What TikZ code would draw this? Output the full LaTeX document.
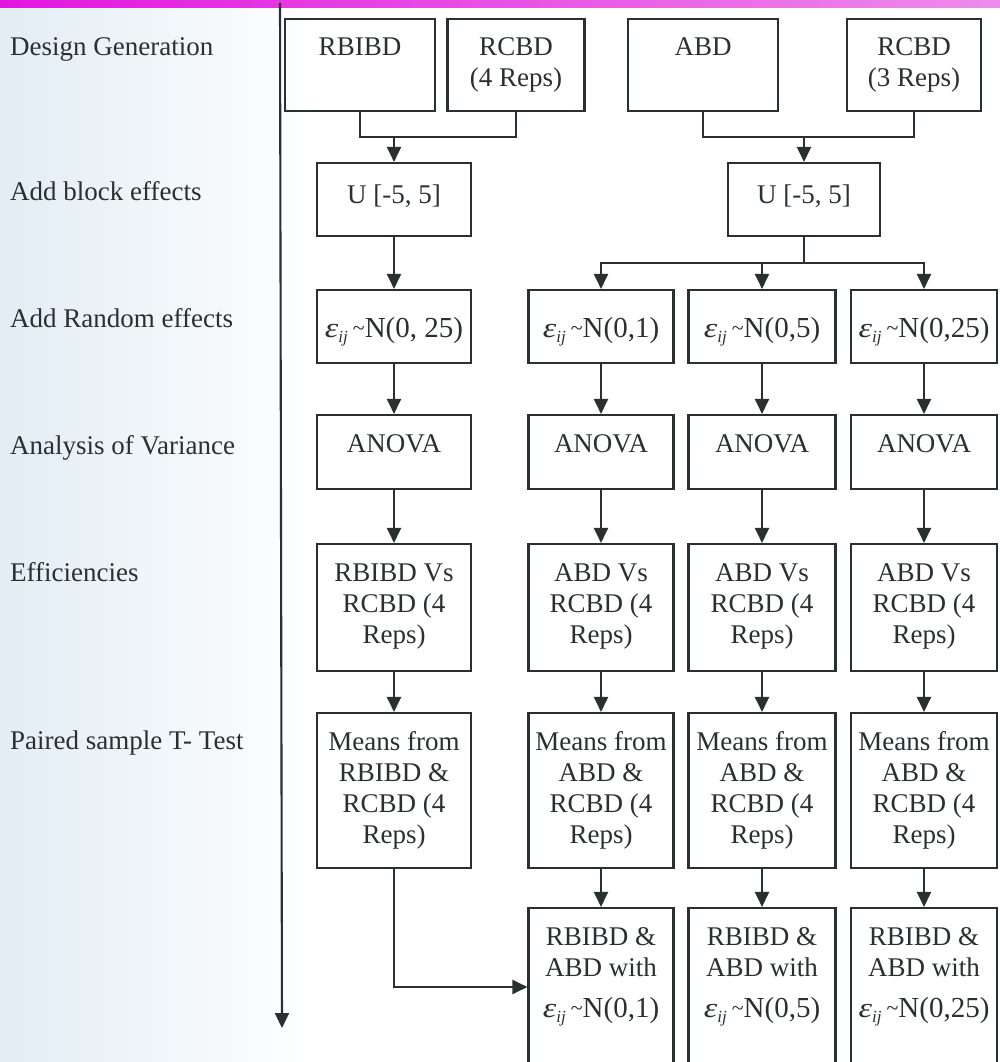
\documentclass[tikz,border=0pt]{standalone}
\usepackage{fontspec}
\usepackage{graphicx}
\setmainfont{Liberation Serif}
\usetikzlibrary{arrows.meta}
\definecolor{ink}{RGB}{40,48,48}
\definecolor{bgl}{RGB}{226,237,244}
\definecolor{magL}{RGB}{226,22,222}
\definecolor{magR}{RGB}{238,140,236}
\newcommand{\boxfont}{\fontsize{27}{31}\selectfont}
% epsilon_ij ~ N(...) as set by the equation editor
\newcommand{\eqn}[1]{\scalebox{1.22}[1]{\fontsize{28}{31}\selectfont\itshape ε}\raisebox{-5pt}{\fontsize{17}{17}\selectfont\itshape ij}\hspace{5pt}\raisebox{2pt}{\fontsize{22}{22}\selectfont\textasciitilde}{\fontsize{29}{31}\selectfont #1}}
\newcommand{\bt}[4]{\parbox[c][#2][t]{#1}{\centering\vspace*{#3}#4\par}}
\tikzset{
  box/.style={draw=ink, line width=2.1pt, inner sep=0pt, text=ink, font=\boxfont},
  lbl/.style={anchor=base west, inner sep=0pt, text=ink, font=\boxfont},
  ln/.style={draw=ink, line width=2.1pt},
  arr/.style={ln, -{Triangle[width=14pt,length=15pt]}},
}
\begin{document}
\begin{tikzpicture}[x=1pt,y=-1pt]
\useasboundingbox (0,0) rectangle (1000,1062);
\begin{scope}
\clip (0,0) rectangle (1000,1062);
\fill[white] (0,0) rectangle (1000,1062);
\shade[left color=bgl, right color=white] (0,0) rectangle (320,1062);
\shade[left color=magL, right color=magR] (0,0) rectangle (1000,8);

% left labels
\node[lbl] (l1) at (10,56) {Design Generation};
\node[lbl] (l2) at (10,200) {Add block effects};
\node[lbl] (l3) at (10,327) {Add Random effects};
\node[lbl] (l4) at (10,454) {Analysis of Variance};
\node[lbl] (l5) at (10,581) {Efficiencies};
\node[lbl] (l6) at (10,749) {Paired sample T- Test};

% axis
\coordinate (axtop) at (280,3);
\coordinate (axbot) at (282,1028);
\draw[arr] (axtop) -- (axbot);

% top row
\node[box] (rbibd) at (360,65) {\bt{150pt}{92pt}{19pt}{RBIBD}};
\node[box] (rcbd4) at (516,65) {\bt{137pt}{92pt}{19pt}{RCBD\\(4 Reps)}};
\node[box] (abd)   at (703,65) {\bt{150pt}{92pt}{19pt}{ABD}};
\node[box] (rcbd3) at (914,65) {\bt{134pt}{92pt}{19pt}{RCBD\\(3 Reps)}};

% block effects
\node[box] (u1) at (394,199.5) {\bt{154pt}{73pt}{22pt}{U [-5, 5]}};
\node[box] (u2) at (804,199.5) {\bt{152pt}{73pt}{22pt}{U [-5, 5]}};

% random effects
\node[box] (e1) at (394,326.5) {\bt{154pt}{73pt}{27pt}{\eqn{N(0, 25)}}};
\node[box] (e2) at (601,326.5) {\bt{145pt}{73pt}{27pt}{\eqn{N(0,1)}}};
\node[box] (e3) at (762,326.5) {\bt{147pt}{73pt}{27pt}{\eqn{N(0,5)}}};
\node[box] (e4) at (924,326.5) {\bt{146pt}{73pt}{27pt}{\eqn{N(0,25)}}};

% ANOVA
\node[box] (an1) at (394,452) {\bt{154pt}{74pt}{20pt}{ANOVA}};
\node[box] (an2) at (601,452) {\bt{145pt}{74pt}{20pt}{ANOVA}};
\node[box] (an3) at (762,452) {\bt{147pt}{74pt}{20pt}{ANOVA}};
\node[box] (an4) at (924,452) {\bt{146pt}{74pt}{20pt}{ANOVA}};

% efficiencies
\node[box] (ef1) at (394,607.5) {\bt{154pt}{127pt}{20pt}{RBIBD Vs\\RCBD (4\\Reps)}};
\node[box] (ef2) at (601,607.5) {\bt{145pt}{127pt}{20pt}{ABD Vs\\RCBD (4\\Reps)}};
\node[box] (ef3) at (762,607.5) {\bt{147pt}{127pt}{20pt}{ABD Vs\\RCBD (4\\Reps)}};
\node[box] (ef4) at (924,607.5) {\bt{146pt}{127pt}{20pt}{ABD Vs\\RCBD (4\\Reps)}};

% means
\node[box] (m1) at (394,790.5) {\bt{154pt}{155pt}{18pt}{Means from\\RBIBD \&\\RCBD (4\\Reps)}};
\node[box] (m2) at (601,790.5) {\bt{145pt}{155pt}{18pt}{Means from\\ABD \&\\RCBD (4\\Reps)}};
\node[box] (m3) at (762,790.5) {\bt{147pt}{155pt}{18pt}{Means from\\ABD \&\\RCBD (4\\Reps)}};
\node[box] (m4) at (924,790.5) {\bt{146pt}{155pt}{18pt}{Means from\\ABD \&\\RCBD (4\\Reps)}};

% final comparisons
\node[box] (f2) at (601,987) {\bt{145pt}{158pt}{20pt}{RBIBD \&\\ABD with\\[10pt]\eqn{N(0,1)}}};
\node[box] (f3) at (762,987) {\bt{147pt}{158pt}{20pt}{RBIBD \&\\ABD with\\[10pt]\eqn{N(0,5)}}};
\node[box] (f4) at (924,987) {\bt{146pt}{158pt}{20pt}{RBIBD \&\\ABD with\\[10pt]\eqn{N(0,25)}}};

% connectors
\coordinate (j1) at (394,137);
\draw[ln] (rbibd.south) |- (j1) -| (rcbd4.south);
\draw[arr] (j1) -- (u1.north);
\coordinate (j2) at (804,137);
\draw[ln] (abd.south) |- (j2) -| (rcbd3.south);
\draw[arr] (j2) -- (u2.north);
\draw[arr] (u1.south) -- (e1.north);
\coordinate (j3) at (804,263);
\draw[ln] (u2.south) -- (j3);
\draw[arr] (j3) -| (e2.north);
\draw[arr] (j3) -| (e3.north);
\draw[arr] (j3) -| (e4.north);
\foreach \c in {1,2,3,4} {
  \draw[arr] (e\c.south) -- (an\c.north);
  \draw[arr] (an\c.south) -- (ef\c.north);
  \draw[arr] (ef\c.south) -- (m\c.north);
}
\foreach \c in {2,3,4} {
  \draw[arr] (m\c.south) -- (f\c.north);
}
\draw[arr] (m1.south) |- (f2.west);
\end{scope}
\end{tikzpicture}
\end{document}
